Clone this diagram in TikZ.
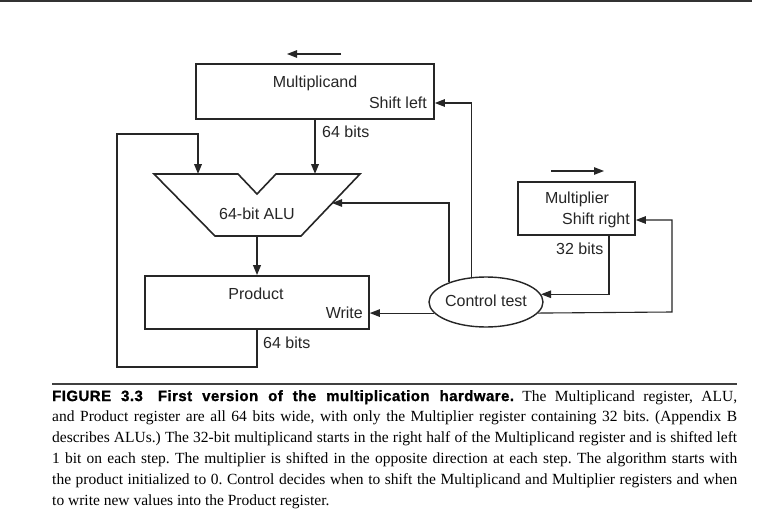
\documentclass[tikz,border=0pt]{standalone}
\usepackage{fontspec}
\setmainfont{Liberation Serif}
\setsansfont{Liberation Sans}
\newfontfamily\headfont{Liberation Sans Bold}[LetterSpace=3,FakeBold=1.2]
\usetikzlibrary{arrows.meta,shapes.geometric}
\begin{document}
\begin{tikzpicture}[x=1pt,y=-1pt,
  tip/.style={-{Triangle[length=10pt,width=7.5pt]}},
  ctl/.style={tip,line width=1.1pt,draw=black!85},
  data/.style={line width=2pt,draw=black!85},
  reg/.style={draw=black!85,line width=1.6pt,inner sep=0pt},
  lbl/.style={font=\sffamily\fontsize{16}{18}\selectfont,text=black!85,inner sep=0pt}]
\useasboundingbox (0,0) rectangle (765,524);
\fill[white] (0,0) rectangle (765,524);
% top rule
\draw[line width=2pt,black!80] (0,1.5) -- (752,1.5);
% registers
\node[reg,minimum width=238pt,minimum height=55pt] (mcand) at (315,91.5) {};
\node[reg,minimum width=117pt,minimum height=53pt] (mplier) at (576.5,208.5) {};
\node[reg,minimum width=224pt,minimum height=53pt] (product) at (257,302.5) {};
\node[draw=black!85,line width=1.4pt,ellipse,minimum width=114pt,minimum height=50pt,inner sep=0pt] (ctrl) at (486,302) {};
% labels
\node[lbl] (tmcand) at (315,83) {Multiplicand};
\node[lbl,anchor=east] (tshl) at (427,103) {Shift left};
\node[lbl] (tmplier) at (577,199) {Multiplier};
\node[lbl,anchor=east] (tshr) at (630,220) {Shift right};
\node[lbl] (tprod) at (256,294) {Product};
\node[lbl,anchor=east] (twrite) at (363,313) {Write};
\node[lbl] (tctrl) at (486,301) {Control test};
\node[lbl] (talu) at (257,214) {64-bit ALU};
\node[lbl,anchor=west] (b64a) at (322,132) {64 bits};
\node[lbl,anchor=west] (b64b) at (263,343) {64 bits};
\node[lbl,anchor=west] (b32) at (556,249) {32 bits};
% ALU shape
\coordinate (alutl) at (154,174);
\coordinate (alutr) at (360,174);
\coordinate (alubr) at (301,236);
\coordinate (alubl) at (215,236);
\draw[draw=black!85,line width=1.6pt,line join=miter] (alutl) -- (238,174) -- (257,194) -- (276,174) -- (alutr) -- (alubr) -- (alubl) -- cycle;
\coordinate (aluinA) at (198,174);
\coordinate (aluinB) at (315,174);
\coordinate (aluout) at (257,236);
\coordinate (aluctl) at (332,203);
% shift direction arrows
\coordinate (sla) at (341,54); \coordinate (slb) at (287,54);
\coordinate (sra) at (551,171); \coordinate (srb) at (604,171);
\draw[ctl] (sla) -- (slb);
\draw[ctl] (sra) -- (srb);
% data paths
\coordinate (loopbl) at (117,367);
\coordinate (looptl) at (117,134);
\draw[data,tip] (mcand.south) -- (aluinB);
\draw[data,tip] (aluout) -- (product.north);
\draw[data,tip,line join=miter] (product.south) |- (loopbl) -- (looptl) -| (aluinA);
% control paths
\draw[ctl] (ctrl.120) |- ([yshift=-11.5pt]mcand.east);
\draw[ctl] (ctrl.152) |- (aluctl);
\draw[ctl] (ctrl.192) -- (product.east |- ctrl.192);
\coordinate (mpr) at (672,312);
\draw[ctl] (ctrl.348) -- (mpr) |- ([yshift=-11.5pt]mplier.east);
\draw[ctl] ([xshift=32.5pt]mplier.south) |- (ctrl.8);
% caption
\draw[line width=1.5pt,black!75] (52,384) -- (737,384);
\node[anchor=north west,text width=685pt,inner sep=0pt,align=justify,
  font=\fontsize{15.5}{20.8}\selectfont] (cap) at (52,390) {\frenchspacing\hyphenpenalty=10000\emergencystretch=20pt
{\headfont\fontsize{15}{20.8}\selectfont FIGURE 3.3\hspace{1em}First version of the multiplication hardware.} The Multiplicand register, ALU,\linebreak
and Product register are all 64 bits wide, with only the Multiplier register containing 32 bits. (Appendix B\linebreak
describes ALUs.) The 32-bit multiplicand starts in the right half of the Multiplicand register and is shifted left\linebreak
1 bit on each step. The multiplier is shifted in the opposite direction at each step. The algorithm starts with\linebreak
the product initialized to 0. Control decides when to shift the Multiplicand and Multiplier registers and when\linebreak
to write new values into the Product register.};
\end{tikzpicture}
\end{document}
